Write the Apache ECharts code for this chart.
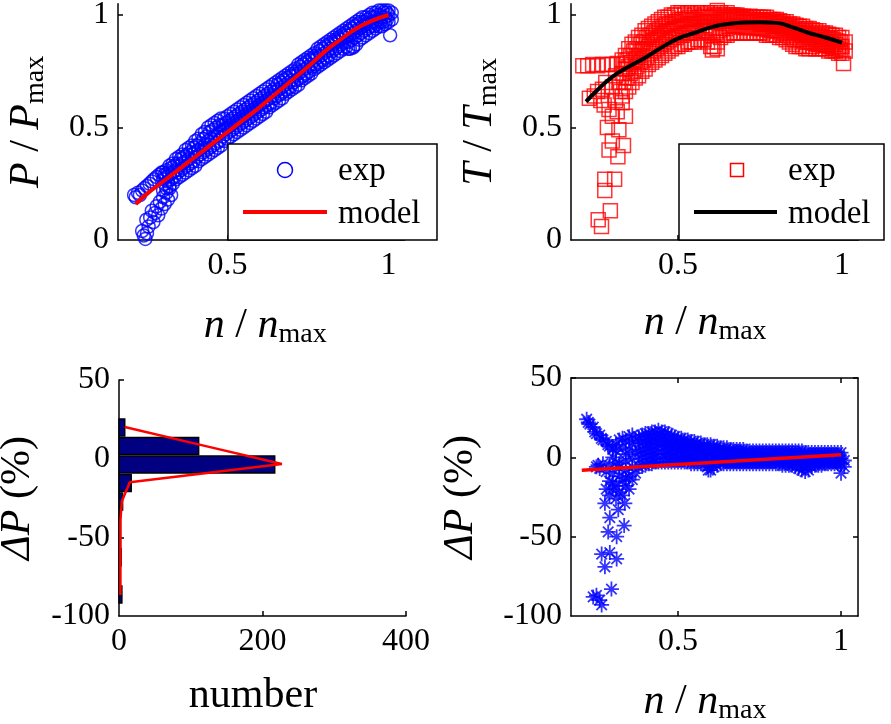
<!DOCTYPE html>
<html><head><meta charset="utf-8">
<script src="https://cdn.jsdelivr.net/npm/echarts@6/dist/echarts.min.js"></script>
<style>html,body{margin:0;padding:0;background:#fff}#c{width:891px;height:724px}</style>
</head><body><div id="c"></div>
<script>
// ================= data =================
// ---- Panel A: P/Pmax vs n/nmax ----
const powerLowN = [0.210,0.215,0.222,0.228,0.235,0.242,0.250,0.258,0.265,0.272,0.280,0.288,0.296,
                   0.235,0.240,0.245,0.250,0.255,0.248,0.260,0.265,0.270,0.275,0.280,0.285,0.290,0.295,0.300,0.305,0.310,0.315,0.320,0.325];
const powerLowP = [0.20,0.19,0.21,0.20,0.22,0.23,0.24,0.25,0.26,0.27,0.28,0.29,0.30,
                   0.04,0.02,0.005,0.03,0.06,0.09,0.10,0.13,0.08,0.12,0.15,0.11,0.17,0.14,0.19,0.16,0.21,0.18,0.23,0.20];
const powerBandN  = [0.30,0.31,0.32,0.33,0.34,0.35,0.36,0.37,0.38,0.39,0.40,0.41,0.42,0.43,0.44,0.45,0.46,0.47,0.48,0.49,
                     0.50,0.51,0.52,0.53,0.54,0.55,0.56,0.57,0.58,0.59,0.60,0.61,0.62,0.63,0.64,0.65,0.66,0.67,0.68,0.69,
                     0.70,0.71,0.72,0.73,0.74,0.75,0.76,0.77,0.78,0.79,0.80,0.81,0.82,0.83,0.84,0.85,0.86,0.87,0.88,0.89,
                     0.90,0.91,0.92,0.93,0.94,0.95,0.96,0.97,0.98,0.99,1.00];
const powerBandLo = [0.22,0.23,0.24,0.25,0.27,0.28,0.29,0.30,0.31,0.32,0.33,0.35,0.36,0.37,0.38,0.39,0.40,0.41,0.42,0.44,
                     0.45,0.46,0.47,0.48,0.49,0.50,0.51,0.52,0.53,0.54,0.55,0.56,0.57,0.59,0.60,0.61,0.62,0.63,0.65,0.66,
                     0.67,0.68,0.69,0.71,0.72,0.73,0.74,0.76,0.77,0.78,0.79,0.80,0.81,0.82,0.83,0.84,0.85,0.86,0.85,0.86,
                     0.87,0.89,0.90,0.91,0.92,0.93,0.94,0.95,0.95,0.96,0.97];
const powerBandMid= [0.27,0.28,0.29,0.30,0.31,0.33,0.34,0.35,0.36,0.38,0.39,0.40,0.41,0.42,0.44,0.45,0.46,0.47,0.48,0.49,
                     0.50,0.51,0.52,0.53,0.54,0.55,0.56,0.57,0.58,0.59,0.60,0.61,0.62,0.63,0.64,0.66,0.67,0.68,0.69,0.70,
                     0.71,0.73,0.74,0.75,0.76,0.77,0.78,0.80,0.81,0.82,0.83,0.84,0.85,0.87,0.88,0.89,0.90,0.91,0.91,0.92,
                     0.93,0.94,0.95,0.96,0.96,0.97,0.97,0.98,0.99,0.99,1.00];
const powerBandHi = [0.30,0.31,0.33,0.34,0.36,0.37,0.38,0.40,0.41,0.42,0.44,0.45,0.47,0.48,0.50,0.51,0.52,0.53,0.54,0.54,
                     0.55,0.56,0.57,0.58,0.59,0.60,0.61,0.62,0.63,0.64,0.65,0.66,0.67,0.68,0.69,0.70,0.71,0.72,0.73,0.74,
                     0.75,0.76,0.78,0.79,0.80,0.81,0.82,0.83,0.85,0.86,0.87,0.88,0.89,0.90,0.91,0.92,0.93,0.94,0.95,0.96,
                     0.97,0.98,0.99,0.99,1.00,1.01,1.01,1.02,1.02,1.02,1.02];
const powerBand2N = [0.305,0.315,0.325,0.335,0.345,0.355,0.365,0.375,0.385,0.395,0.405,0.415,0.425,0.435,0.445,0.455,0.465,0.475,0.485,0.495,
                     0.505,0.515,0.525,0.535,0.545,0.555,0.565,0.575,0.585,0.595,0.605,0.615,0.625,0.635,0.645,0.655,0.665,0.675,0.685,0.695,
                     0.705,0.715,0.725,0.735,0.745,0.755,0.765,0.775,0.785,0.795,0.805,0.815,0.825,0.835,0.845,0.855,0.865,0.875,0.885,0.895,
                     0.905,0.915,0.925,0.935,0.945,0.955,0.965,0.975,0.985,0.995];
const powerBand2A = [0.25,0.26,0.27,0.28,0.30,0.31,0.32,0.33,0.34,0.35,0.37,0.38,0.39,0.40,0.41,0.42,0.43,0.44,0.46,0.47,
                     0.48,0.49,0.50,0.51,0.52,0.53,0.54,0.55,0.56,0.57,0.58,0.59,0.60,0.61,0.63,0.64,0.65,0.66,0.67,0.68,
                     0.70,0.71,0.72,0.73,0.74,0.75,0.77,0.78,0.79,0.80,0.81,0.82,0.84,0.85,0.86,0.87,0.88,0.88,0.89,0.90,
                     0.91,0.92,0.93,0.94,0.95,0.95,0.96,0.97,0.97,0.98];
const powerBand2B = [0.29,0.30,0.32,0.33,0.34,0.36,0.37,0.38,0.39,0.41,0.42,0.43,0.45,0.46,0.48,0.49,0.50,0.51,0.51,0.52,
                     0.53,0.54,0.55,0.56,0.57,0.58,0.59,0.60,0.61,0.62,0.63,0.64,0.65,0.66,0.67,0.69,0.70,0.71,0.72,0.73,
                     0.74,0.75,0.77,0.78,0.79,0.80,0.81,0.82,0.84,0.85,0.86,0.87,0.88,0.89,0.90,0.91,0.92,0.93,0.94,0.95,
                     0.96,0.97,0.97,0.98,0.99,0.99,1.00,1.00,1.01,1.01];
const powerOutN = [1.005,0.875,0.89,1.01,1.01];
const powerOutP = [0.91,0.85,0.855,0.98,1.01];
const powerModelN = [0.215,0.25,0.30,0.35,0.40,0.45,0.50,0.55,0.60,0.65,0.70,0.75,0.80,0.85,0.90,0.95,1.00];
const powerModelP = [0.16,0.205,0.26,0.315,0.37,0.425,0.48,0.535,0.59,0.65,0.71,0.77,0.835,0.89,0.94,0.975,1.00];

// ---- Panel B: T/Tmax vs n/nmax ----
const torqueLowN = [0.21,0.225,0.24,0.255,0.27,0.285,0.30,0.315,
                    0.23,0.245,0.255,0.265,0.27,0.28,0.275,
                    0.29,0.30,0.285,0.32,0.34,0.29,0.317,0.334,0.30,0.277,0.307,0.277,0.294,0.257,0.267,0.31,0.33,0.32,0.30,0.31,0.325,0.315];
const torqueLowT = [0.775,0.775,0.78,0.775,0.78,0.78,0.78,0.785,
                    0.63,0.64,0.66,0.62,0.67,0.70,0.60,
                    0.58,0.55,0.50,0.49,0.55,0.40,0.37,0.42,0.44,0.27,0.27,0.22,0.13,0.09,0.06,0.62,0.61,0.70,0.68,0.73,0.66,0.57];
const torqueBandN  = [0.33,0.34,0.35,0.36,0.37,0.38,0.39,0.40,0.41,0.42,0.43,0.44,0.45,0.46,0.47,0.48,0.49,
                      0.50,0.51,0.52,0.53,0.54,0.55,0.56,0.57,0.58,0.59,0.60,0.61,0.62,0.63,0.64,0.65,0.66,0.67,0.68,0.69,
                      0.70,0.71,0.72,0.73,0.74,0.75,0.76,0.77,0.78,0.79,0.80,0.81,0.82,0.83,0.84,0.85,0.86,0.87,0.88,0.89,
                      0.90,0.91,0.92,0.93,0.94,0.95,0.96,0.97,0.98,0.99,1.00];
const torqueBandLo = [0.64,0.66,0.68,0.70,0.72,0.73,0.75,0.76,0.78,0.79,0.80,0.81,0.82,0.83,0.84,0.85,0.86,
                      0.86,0.87,0.87,0.88,0.88,0.88,0.89,0.89,0.89,0.88,0.86,0.86,0.88,0.90,0.91,0.91,0.92,0.92,0.92,0.92,
                      0.92,0.92,0.92,0.92,0.92,0.92,0.92,0.91,0.91,0.91,0.91,0.90,0.90,0.89,0.88,0.87,0.86,0.86,0.86,0.85,
                      0.85,0.86,0.85,0.85,0.85,0.85,0.84,0.84,0.84,0.83,0.83];
const torqueBandMid= [0.74,0.76,0.77,0.79,0.80,0.82,0.84,0.85,0.86,0.88,0.89,0.90,0.91,0.92,0.93,0.93,0.94,
                      0.94,0.95,0.95,0.96,0.96,0.96,0.96,0.97,0.97,0.97,0.97,0.97,0.97,0.98,0.98,0.98,0.98,0.98,0.98,0.97,
                      0.97,0.97,0.97,0.97,0.97,0.96,0.96,0.96,0.96,0.95,0.95,0.95,0.94,0.94,0.93,0.93,0.92,0.92,0.91,0.91,
                      0.90,0.90,0.89,0.89,0.88,0.88,0.88,0.87,0.87,0.86,0.86];
const torqueBandHi = [0.80,0.82,0.85,0.87,0.88,0.90,0.91,0.93,0.94,0.95,0.96,0.97,0.98,0.99,0.99,1.00,1.00,
                      1.01,1.01,1.00,1.01,1.01,1.00,1.01,1.01,1.00,1.01,1.01,1.00,1.02,1.01,1.00,1.01,1.00,1.00,1.00,0.995,
                      0.995,0.99,0.995,0.99,0.99,0.99,0.99,0.99,0.98,0.98,0.98,0.975,0.97,0.97,0.96,0.96,0.955,0.95,0.95,0.94,
                      0.94,0.935,0.93,0.93,0.92,0.92,0.915,0.91,0.91,0.90,0.90];
const torqueBand2N = [0.335,0.345,0.355,0.365,0.375,0.385,0.395,0.405,0.415,0.425,0.435,0.445,0.455,0.465,0.475,0.485,0.495,
                      0.505,0.515,0.525,0.535,0.545,0.555,0.565,0.575,0.585,0.595,0.605,0.615,0.625,0.635,0.645,0.655,0.665,0.675,0.685,0.695,
                      0.705,0.715,0.725,0.735,0.745,0.755,0.765,0.775,0.785,0.795,0.805,0.815,0.825,0.835,0.845,0.855,0.865,0.875,0.885,0.895,
                      0.905,0.915,0.925,0.935,0.945,0.955,0.965,0.975,0.985,0.995];
const torqueBand2A = [0.70,0.72,0.74,0.75,0.77,0.79,0.80,0.81,0.83,0.84,0.85,0.86,0.87,0.88,0.89,0.90,0.90,
                      0.91,0.91,0.92,0.92,0.92,0.92,0.93,0.93,0.93,0.92,0.91,0.92,0.93,0.94,0.94,0.95,0.95,0.95,0.95,0.945,
                      0.945,0.945,0.945,0.945,0.94,0.94,0.94,0.935,0.93,0.93,0.93,0.92,0.92,0.91,0.90,0.89,0.89,0.89,0.88,0.88,
                      0.88,0.875,0.87,0.87,0.865,0.865,0.86,0.855,0.85,0.845];
const torqueBand2B = [0.78,0.80,0.82,0.84,0.85,0.87,0.88,0.90,0.91,0.92,0.93,0.94,0.95,0.96,0.96,0.97,0.97,
                      0.98,0.98,0.98,0.99,0.98,0.98,0.99,0.99,0.99,0.99,0.99,0.99,1.00,0.99,0.99,0.99,0.99,0.99,0.99,0.985,
                      0.98,0.98,0.98,0.98,0.98,0.975,0.975,0.97,0.97,0.965,0.965,0.96,0.955,0.95,0.945,0.94,0.935,0.93,0.93,0.92,
                      0.92,0.915,0.91,0.905,0.90,0.90,0.895,0.89,0.885,0.88];
const torqueOutN = [1.005,1.01,1.01,0.605,0.62];
const torqueOutT = [0.785,0.84,0.88,0.845,0.85];
const torqueModelN = [0.22,0.25,0.30,0.35,0.40,0.45,0.50,0.55,0.60,0.65,0.70,0.75,0.80,0.85,0.90,0.95,1.00];
const torqueModelT = [0.615,0.66,0.725,0.77,0.81,0.855,0.895,0.92,0.945,0.96,0.967,0.968,0.965,0.945,0.92,0.90,0.877];

// ---- Panel C: histogram of the deviation ----
const binCenters = [19.8, 8.1, -3.7, -15.5, -27.3, -39.1, -50.9, -62.7, -74.5, -86.3];
const binCounts  = [8, 111, 217, 17, 5, 2, 2, 3, 1, 4];
const fitCounts  = [8, 118, 227, 15, 4, 2, 2, 2, 2, 2];
const fitCenters = [20.1, 8.3, -3.4, -15.0, -27.0, -39.0, -51.0, -63.0, -75.0, -86.7];

// ---- Panel D: deviation vs n/nmax ----
const devLowN = [0.22,0.225,0.23,0.24,0.245,0.25,0.26,0.265,0.27,0.28,0.285,0.29,0.30,0.31,
                 0.25,0.255,0.26,0.27,
                 0.276,0.337,0.291,0.317,0.335,0.286,0.312,0.266,0.291,0.312,0.276,0.296,0.25,0.266,0.24,0.26,
                 0.28,0.29,0.29,0.30,0.30,0.31,0.31,0.32,0.32,0.33,0.33,0.34,0.34,0.35,0.35,0.36,0.36,0.37,0.29,0.30,0.31,0.28,0.32,0.34,0.30,
                 0.31,0.32,0.33,0.33,0.34,0.34,0.35,0.35,0.36,0.36,0.37,0.37,0.32,0.34,0.36];
const devLowP = [24,22,21,19,16,15,14,12,11,10,8,7,5,4,
                 -6,-5,-7,-4,
                 -29,-29,-38,-33,-43,-47,-50,-61,-60,-64,-69,-83,-87,-93,-88,-90,
                 -20,-15,-24,-10,-20,-18,-26,-12,-22,-15,-24,-8,-18,-20,-12,-14,-6,-10,-5,0,-3,-9,-4,-2,-16,
                 8,11,6,12,2,10,13,5,9,14,3,11,-7,-13,-1];
const devBandN  = [0.38,0.39,0.40,0.41,0.42,0.43,0.44,0.45,0.46,0.47,0.48,0.49,
                   0.50,0.51,0.52,0.53,0.54,0.55,0.56,0.57,0.58,0.59,0.60,0.61,0.62,0.63,0.64,0.65,0.66,0.67,0.68,0.69,
                   0.70,0.71,0.72,0.73,0.74,0.75,0.76,0.77,0.78,0.79,0.80,0.81,0.82,0.83,0.84,0.85,0.86,0.87,0.88,0.89,
                   0.90,0.91,0.92,0.93,0.94,0.95,0.96,0.97,0.98,0.99,1.00];
const devBandLo = [-6,-5,-5,-4,-4,-3,-3,-3,-3,-3,-3,-3,
                   -3,-3,-3,-3,-4,-4,-4,-4,-4,-6,-8,-6,-5,-4,-4,-4,-4,-4,-4,-4,
                   -4,-4,-4,-4,-4,-4,-4,-4,-4,-4,-4,-4,-5,-5,-5,-5,-6,-7,-8,-9,
                   -8,-6,-5,-5,-5,-4,-4,-4,-4,-4,-4];
const devBandMid= [4,5,6,6,7,7,8,8,7,7,6,6,
                   5,5,4,4,4,3,3,3,2,2,2,1,1,1,1,0,0,0,0,0,
                   0,0,0,0,0,0,0,0,0,0,0,0,0,0,-1,-1,-1,-1,-1,-2,
                   -2,-1,-1,-1,-1,-1,-1,-1,-1,-1,-1];
const devBandHi = [13,14,15,15,16,16,17,16,16,15,14,13,
                   12,12,11,11,10,10,9,9,8,8,8,7,7,6,6,6,5,5,5,5,
                   5,4,4,4,4,4,4,4,4,4,4,4,4,4,4,4,4,4,4,3,
                   3,3,3,3,3,3,3,3,3,3,3];
const devBand2N = [0.385,0.395,0.405,0.415,0.425,0.435,0.445,0.455,0.465,0.475,0.485,0.495,
                   0.505,0.515,0.525,0.535,0.545,0.555,0.565,0.575,0.585,0.595,0.605,0.615,0.625,0.635,0.645,0.655,0.665,0.675,0.685,0.695,
                   0.705,0.715,0.725,0.735,0.745,0.755,0.765,0.775,0.785,0.795,0.805,0.815,0.825,0.835,0.845,0.855,0.865,0.875,0.885,0.895,
                   0.905,0.915,0.925,0.935,0.945,0.955,0.965,0.975,0.985,0.995];
const devBand2A = [-1,0,1,1,2,2,3,2,2,2,1,1,
                   1,1,0,0,0,-1,-1,-1,-1,-2,-3,-2,-2,-1,-2,-2,-2,-2,-2,-2,
                   -2,-2,-2,-2,-2,-2,-2,-2,-2,-2,-2,-2,-2.5,-3,-3,-3.5,-4,-4.5,-5,-5,
                   -4,-3.5,-3,-3,-3,-3,-3,-3,-3,-3];
const devBand2B = [9,10,11,11,12,12,12,12,11,10,10,9,
                   8,8,7,7,7,6,6,5,5,5,4,4,4,3,3,3,2.5,2.5,2.5,2.5,
                   2,2,2,2,2,2,2,2,2,2,2,2,2,2,1.5,1.5,1.5,1.5,1,1,
                   1,1,1,1,1,1,1,1,1,1];
const devOutN = [1.00,1.01,1.01,0.593];
const devOutP = [-10,-2,-6,-8];
const devModelN = [0.205, 1.0];
const devModelP = [-8.2, 1.7];

// tick label values
const unitTicks = [0, 0.5, 1];
const nTicks = [0.5, 1];
const countTicks = [0, 200, 400];
const devTicks = [-100, -50, 0, 50];

// ================= chart =================
const F = 'Liberation Serif';
const AL = {color:'#000', width:1.5};
const rich = {
  i:{fontFamily:F, fontStyle:'italic', fontSize:42, color:'#000', lineHeight:46},
  r:{fontFamily:F, fontSize:42, color:'#000', lineHeight:46},
  s:{fontFamily:F, fontSize:28, color:'#000', lineHeight:16, verticalAlign:'bottom'}
};
const tickRich = {t:{fontFamily:F, fontSize:32, color:'#000', lineHeight:34}};
const nName = '{i|n}{r| / }{i|n}{s|max}';
function axisBase(grid, min, max, labels, ticks, extra){
  return Object.assign({
    gridIndex:grid, type:'value', min:min, max:max,
    axisLine:{show:true, onZero:false, lineStyle:AL},
    axisTick:{show:true, inside:true, length:5, customValues:ticks, lineStyle:AL},
    axisLabel:{show:labels.length>0, customValues:labels, fontFamily:F, fontSize:32, color:'#000', margin:9,
               formatter:function(v){ return '{t|' + v + '}'; }, rich:tickRich},
    splitLine:{show:false}
  }, extra||{});
}
const zip = (a,b)=>a.map((v,i)=>[v,b[i]]);
const band = (n, lo, mid, hi)=>[].concat(zip(n,lo), zip(n,mid), zip(n,hi));
const asterisk = 'path://M0,-10L0,10M-10,0L10,0M-7,-7L7,7M-7,7L7,-7';

const powerExp  = [].concat(zip(powerLowN, powerLowP), band(powerBandN, powerBandLo, powerBandMid, powerBandHi),
                            zip(powerBand2N, powerBand2A), zip(powerBand2N, powerBand2B), zip(powerOutN, powerOutP));
const torqueExp = [].concat(zip(torqueLowN, torqueLowT), band(torqueBandN, torqueBandLo, torqueBandMid, torqueBandHi),
                            zip(torqueBand2N, torqueBand2A), zip(torqueBand2N, torqueBand2B), zip(torqueOutN, torqueOutT));
const devExp    = [].concat(zip(devLowN, devLowP), band(devBandN, devBandLo, devBandMid, devBandHi),
                            zip(devBand2N, devBand2A), zip(devBand2N, devBand2B), zip(devOutN, devOutP));

const option = {
  animation:false,
  backgroundColor:'#fff',
  textStyle:{fontFamily:F},
  grid:[
    {left:118, top:3.75, width:286.6, height:236.25, outerBoundsMode:'none', containLabel:false},
    {left:571, top:3.75, width:287.3, height:236.25, outerBoundsMode:'none', containLabel:false},
    {left:119, top:380, width:287, height:236, outerBoundsMode:'none', containLabel:false},
    {left:571, top:378, width:287, height:238, outerBoundsMode:'none', containLabel:false}
  ],
  xAxis:[
    axisBase(0, 0.16, 1.05, nTicks, nTicks, {name:nName, nameLocation:'middle', nameGap:63, nameTextStyle:{rich, padding:[0,0,0,8]}}),
    axisBase(1, 0.174, 1.05, nTicks, nTicks, {name:nName, nameLocation:'middle', nameGap:60, nameTextStyle:{rich, padding:[0,19,0,0]}}),
    axisBase(2, 0, 400, countTicks, [200,400], {name:'{r|number}', nameLocation:'middle', nameGap:57, nameTextStyle:{rich, padding:[0,19,0,0]}}),
    axisBase(3, 0.172, 1.052, nTicks, nTicks, {name:nName, nameLocation:'middle', nameGap:63, nameTextStyle:{rich, padding:[0,19,0,0]}}),
    axisBase(3, 0.172, 1.052, [], nTicks, {position:'top'})
  ],
  yAxis:[
    axisBase(0, 0, 1.05, unitTicks, [0.5,1], {name:'{i|P}{r| / }{i|P}{s|max}', nameLocation:'middle', nameRotate:90, nameGap:68, nameTextStyle:{rich}}),
    axisBase(1, 0, 1.05, unitTicks, [0.5,1], {name:'{i|T}{r| / }{i|T}{s|max}', nameLocation:'middle', nameRotate:90, nameGap:68, nameTextStyle:{rich}}),
    axisBase(2, -100, 50, devTicks, [-50,0,50], {name:'{i|ΔP}{r| (%)}', nameLocation:'middle', nameRotate:90, nameGap:78, nameTextStyle:{rich}}),
    axisBase(3, -100, 50, devTicks, [-50,0,50], {name:'{i|ΔP}{r| (%)}', nameLocation:'middle', nameRotate:90, nameGap:87, nameTextStyle:{rich}}),
    axisBase(3, -100, 50, [], [-50,0,50], {position:'right'})
  ],
  series:[
    {type:'scatter', xAxisIndex:0, yAxisIndex:0, data:powerExp, symbol:'circle', symbolSize:13,
     itemStyle:{color:'rgba(0,0,0,0)', borderColor:'#0000ff', borderWidth:1.5}, z:2},
    {type:'line', xAxisIndex:0, yAxisIndex:0, data:zip(powerModelN, powerModelP), showSymbol:false, smooth:true,
     lineStyle:{color:'#ff0000', width:4}, z:3},
    {type:'scatter', xAxisIndex:1, yAxisIndex:1, data:torqueExp, symbol:'rect', symbolSize:14,
     itemStyle:{color:'rgba(0,0,0,0)', borderColor:'#ff0000', borderWidth:1.5}, z:2},
    {type:'line', xAxisIndex:1, yAxisIndex:1, data:zip(torqueModelN, torqueModelT), showSymbol:false, smooth:true,
     lineStyle:{color:'#000', width:4}, z:3},
    {type:'custom', xAxisIndex:2, yAxisIndex:2, data:zip(binCounts, binCenters), z:2,
     renderItem:function(params, api){
       const cnt = api.value(0), c = api.value(1);
       const p1 = api.coord([0, c + 5.4]);
       const p2 = api.coord([cnt, c - 5.4]);
       return {type:'rect', shape:{x:p1[0], y:p1[1], width:p2[0]-p1[0], height:p2[1]-p1[1]},
               style:{fill:'#000080', stroke:'#000', lineWidth:1.5}};
     }},
    {type:'line', xAxisIndex:2, yAxisIndex:2, data:zip(fitCounts, fitCenters), showSymbol:false,
     lineStyle:{color:'#ff0000', width:2.5}, z:3},
    {type:'scatter', xAxisIndex:3, yAxisIndex:3, data:devExp, symbol:asterisk, symbolSize:15,
     itemStyle:{color:'rgba(0,0,0,0)', borderColor:'#0000ff', borderWidth:1.8}, z:2},
    {type:'line', xAxisIndex:3, yAxisIndex:3, data:zip(devModelN, devModelP), showSymbol:false,
     lineStyle:{color:'#ff0000', width:3.5}, z:3}
  ],
  graphic:[
    {type:'rect', z:100, shape:{x:228, y:144, width:209, height:96}, style:{fill:'#fff', stroke:'#000', lineWidth:1.5}},
    {type:'circle', z:101, shape:{cx:285, cy:170, r:7.5}, style:{fill:'none', stroke:'#0000ff', lineWidth:1.5}},
    {type:'line', z:101, shape:{x1:243, y1:212, x2:327, y2:212}, style:{stroke:'#ff0000', lineWidth:4}},
    {type:'text', z:101, x:338, y:171, style:{text:'exp', font:'33px "Liberation Serif"', fill:'#000', verticalAlign:'middle'}},
    {type:'text', z:101, x:338, y:214, style:{text:'model', font:'33px "Liberation Serif"', fill:'#000', verticalAlign:'middle'}},

    {type:'rect', z:100, shape:{x:679, y:144, width:205, height:96}, style:{fill:'#fff', stroke:'#000', lineWidth:1.5}},
    {type:'rect', z:101, shape:{x:730.5, y:163.5, width:13, height:13}, style:{fill:'none', stroke:'#ff0000', lineWidth:1.5}},
    {type:'line', z:101, shape:{x1:694, y1:212, x2:777, y2:212}, style:{stroke:'#000', lineWidth:4}},
    {type:'text', z:101, x:788, y:171, style:{text:'exp', font:'33px "Liberation Serif"', fill:'#000', verticalAlign:'middle'}},
    {type:'text', z:101, x:788, y:214, style:{text:'model', font:'33px "Liberation Serif"', fill:'#000', verticalAlign:'middle'}}
  ]
};
const chart = echarts.init(document.getElementById('c'), null, {renderer:'canvas'});
chart.setOption(option);
</script></body></html>
